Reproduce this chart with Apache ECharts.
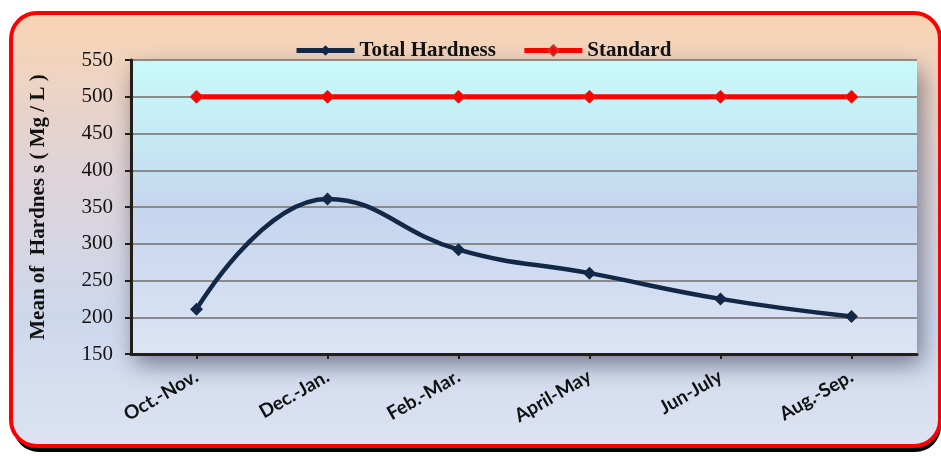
<!DOCTYPE html>
<html>
<head>
<meta charset="utf-8">
<script src="https://cdn.jsdelivr.net/npm/echarts@6/dist/echarts.min.js"></script>
<style>
  html, body { margin: 0; padding: 0; background: #fff; }
  #chart { width: 941px; height: 457px; }
</style>
</head>
<body>
<div id="chart"></div>
<script>
// data
var periods = ["Oct.-Nov.", "Dec.-Jan.", "Feb.-Mar.", "April-May", "Jun-July", "Aug.-Sep."];
var totalHardness = [211, 361, 292, 260, 225, 201];
var standard = [500, 500, 500, 500, 500, 500];
var yMin = 150, yMax = 550, yStep = 50;

var chart = echarts.init(document.getElementById("chart"));

chart.setOption({
  animation: false,
  graphic: [
    {
      // black drop shadow of the card
      type: "rect",
      z: -20,
      shape: { x: 13, y: 19, width: 928, height: 433, r: 26 },
      style: { fill: "#000" }
    },
    {
      // card with red rounded border
      type: "rect",
      z: -10,
      shape: { x: 11, y: 13, width: 929, height: 433, r: 26 },
      style: {
        fill: new echarts.graphic.LinearGradient(0, 0, 0, 1, [
          { offset: 0, color: "#fad4b2" },
          { offset: 0.35, color: "#dfd3d6" },
          { offset: 0.7, color: "#cdd7ec" },
          { offset: 1, color: "#dde3f2" }
        ]),
        stroke: "#ff0000",
        lineWidth: 4
      }
    }
  ],
  legend: {
    top: 35,
    left: 289,
    itemGap: 26,
    itemWidth: 58,
    itemHeight: 13,
    lineStyle: { width: 5 },
    textStyle: {
      fontFamily: "Liberation Serif",
      fontWeight: "bold",
      fontSize: 21,
      color: "#111"
    },
    data: ["Total Hardness", "Standard"]
  },
  grid: {
    left: 131,
    right: 24,
    top: 60,
    bottom: 103,
    show: true,
    borderWidth: 0,
    backgroundColor: new echarts.graphic.LinearGradient(0, 0, 0, 1, [
      { offset: 0, color: "#c8fafa" },
      { offset: 0.3, color: "#c6e6f4" },
      { offset: 0.5, color: "#c5d5ee" },
      { offset: 1, color: "#dde4f4" }
    ]),
    shadowColor: "rgba(40,40,60,0.55)",
    shadowBlur: 22,
    shadowOffsetX: 4,
    shadowOffsetY: 10
  },
  xAxis: {
    type: "category",
    data: periods,
    boundaryGap: true,
    axisLine: { lineStyle: { color: "#231f18", width: 3 } },
    axisTick: { show: true, alignWithLabel: true, length: 5, lineStyle: { color: "#231f18", width: 2 } },
    axisLabel: {
      rotate: 30,
      margin: 21,
      fontFamily: "Lato",
      fontWeight: "bold",
      fontSize: 19,
      color: "#111"
    },
    splitLine: { show: false }
  },
  yAxis: {
    type: "value",
    min: yMin,
    max: yMax,
    interval: yStep,
    name: "Mean of  Hardnes s ( Mg / L )",
    nameLocation: "middle",
    nameGap: 82,
    nameTextStyle: {
      fontFamily: "Liberation Serif",
      fontWeight: "bold",
      fontSize: 21,
      color: "#111"
    },
    axisLine: { show: true, lineStyle: { color: "#231f18", width: 3 } },
    axisTick: { show: true, length: 6, lineStyle: { color: "#231f18", width: 2 } },
    axisLabel: {
      margin: 18,
      fontFamily: "Liberation Serif",
      fontSize: 21,
      color: "#111"
    },
    splitLine: { show: true, lineStyle: { color: "#8a8a8a", width: 2 } }
  },
  series: [
    {
      name: "Total Hardness",
      type: "line",
      data: totalHardness,
      smooth: 0.45,
      symbol: "diamond",
      symbolSize: 13,
      itemStyle: { color: "#122846" },
      lineStyle: { color: "#122846", width: 4.5 },
      z: 3
    },
    {
      name: "Standard",
      type: "line",
      data: standard,
      symbol: "diamond",
      symbolSize: 13,
      itemStyle: { color: "#ff0000", borderColor: "#c0392b", borderWidth: 1 },
      lineStyle: { color: "#ff0000", width: 5 },
      z: 2
    }
  ]
});
</script>
</body>
</html>
